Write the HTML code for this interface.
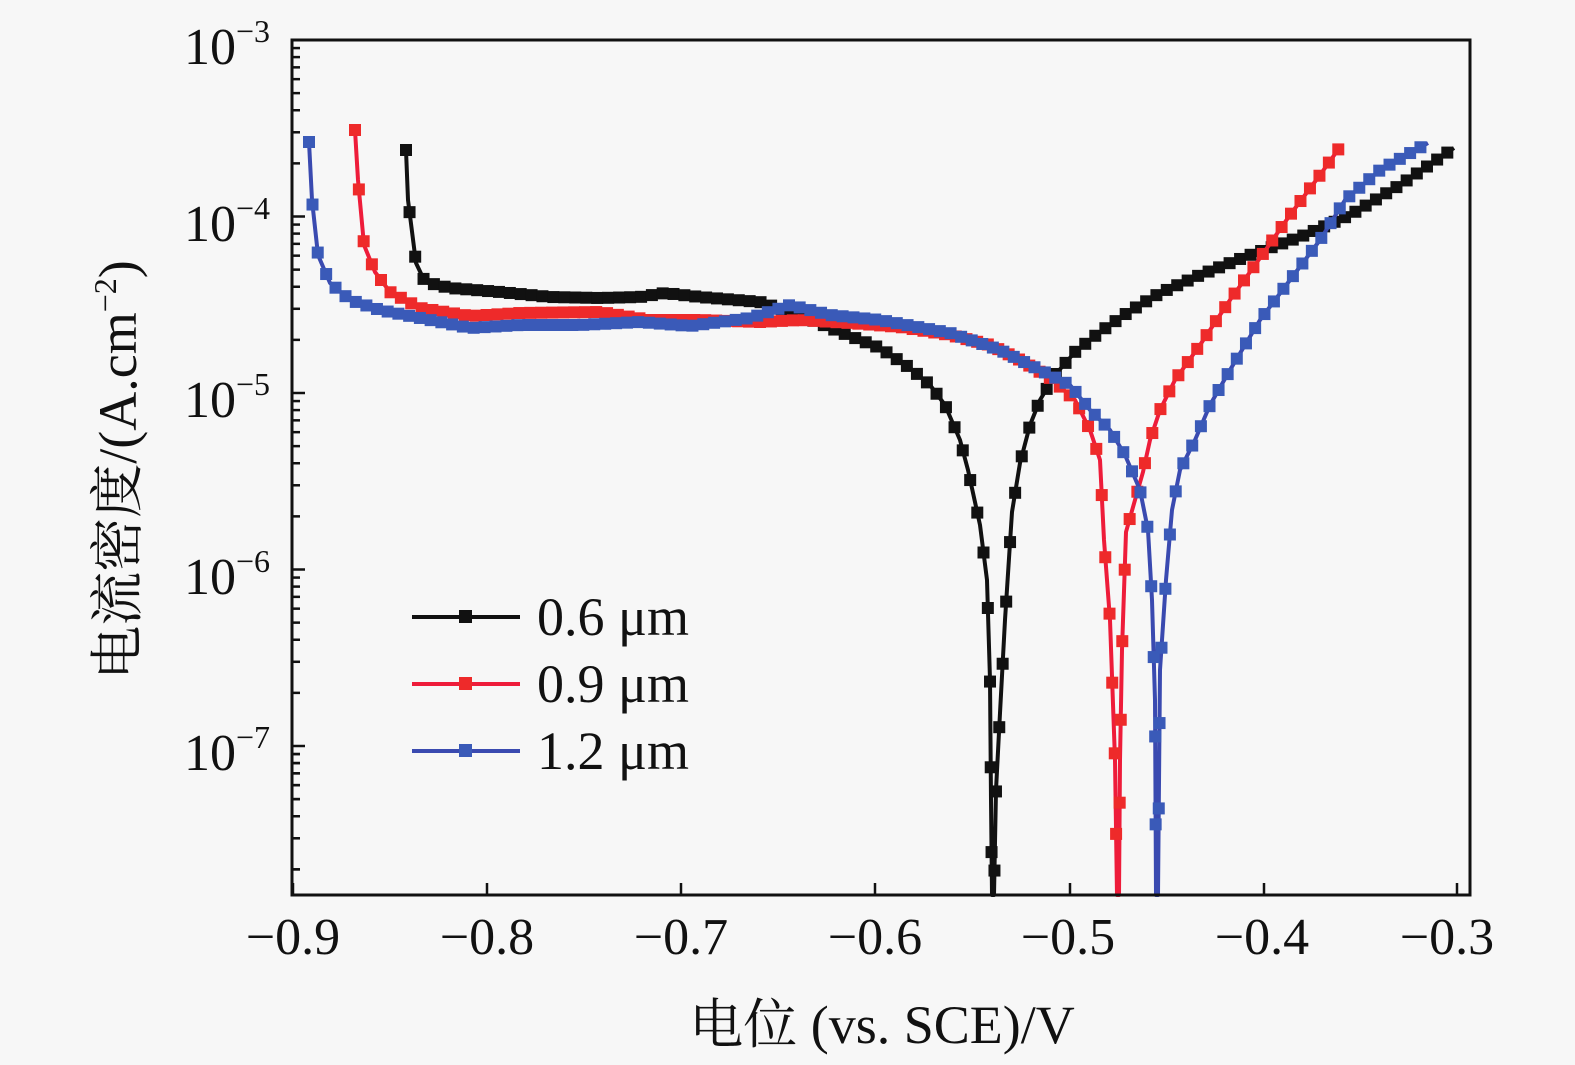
<!DOCTYPE html>
<html><head><meta charset="utf-8"><style>
html,body{margin:0;padding:0;background:#f7f7f7;}
svg{display:block}
text{font-family:"Liberation Serif","Noto Serif CJK SC",serif;fill:#111}
</style></head><body>
<svg id="s" width="1575" height="1065" xmlns="http://www.w3.org/2000/svg">
<rect width="1575" height="1065" fill="#f7f7f7"/>
<g id="ax" stroke="#111" stroke-width="2.5" fill="none"></g>
<g id="curves"></g>
<rect x="292" y="40" width="1178" height="855" fill="none" stroke="#111" stroke-width="3"/>
<g font-size="52" text-anchor="end">
<text x="270" y="64">10<tspan font-size="32" dy="-22">−3</tspan></text>
<text x="270" y="241">10<tspan font-size="32" dy="-22">−4</tspan></text>
<text x="270" y="417">10<tspan font-size="32" dy="-22">−5</tspan></text>
<text x="270" y="594">10<tspan font-size="32" dy="-22">−6</tspan></text>
<text x="270" y="770">10<tspan font-size="32" dy="-22">−7</tspan></text>
</g>
<g font-size="52" text-anchor="middle">
<text x="293" y="954">−0.9</text>
<text x="487" y="954">−0.8</text>
<text x="681" y="954">−0.7</text>
<text x="875" y="954">−0.6</text>
<text x="1068" y="954">−0.5</text>
<text x="1262" y="954">−0.4</text>
<text x="1447" y="954">−0.3</text>
<text x="882" y="1043" font-size="54">电位 (vs. SCE)/V</text>
<text transform="translate(136,470) rotate(-90)" font-size="54">电流密度/(A.cm<tspan font-size="32" dy="-20">−2</tspan><tspan dy="20">)</tspan></text>
</g>
<g font-size="54">
<text x="537" y="635">0.6 μm</text>
<text x="537" y="702">0.9 μm</text>
<text x="537" y="769">1.2 μm</text>
</g>
<g stroke-width="4">
<line x1="412" y1="617" x2="520" y2="617" stroke="#111"/>
<line x1="412" y1="684" x2="520" y2="684" stroke="#ee1c3a"/>
<line x1="412" y1="751" x2="520" y2="751" stroke="#3a4ab0"/>
</g>
<rect x="459" y="610" width="13" height="13" fill="#111"/>
<rect x="459" y="677" width="13" height="13" fill="#ee2a2a"/>
<rect x="459" y="744" width="13" height="13" fill="#3a5ab8"/>
</svg>
<script>
var NS="http://www.w3.org/2000/svg";
var ax=document.getElementById('ax');
function ln(x1,y1,x2,y2){var l=document.createElementNS(NS,'line');l.setAttribute('x1',x1);l.setAttribute('y1',y1);l.setAttribute('x2',x2);l.setAttribute('y2',y2);ax.appendChild(l);}
for(var d=0;d<5;d++){var y0=40+d*176.5;ln(292,y0,305,y0);
 for(var k=2;k<10;k++){var y=y0+176.5-Math.log10(k)*176.5; if(y<895) ln(292,y,300,y);}}
for(var k=2;k<10;k++){var y=40+5*176.5-Math.log10(k)*176.5; if(y<895&&y>40+4*176.5) ln(292,y,300,y);}
[293,487,681,875,1070,1264,1457].forEach(function(x){ln(x,895,x,883);});
var cg=document.getElementById('curves');
function curve(pts,col,mcol){
 var p=document.createElementNS(NS,'polyline');
 p.setAttribute('points',pts.map(function(a){return a.join(',')}).join(' '));
 p.setAttribute('fill','none');p.setAttribute('stroke',col);p.setAttribute('stroke-width','4');p.setAttribute('stroke-linejoin','round');
 cg.appendChild(p);
 var acc=0,step=11;
 function mk(x,y){if(y>885)return;var r=document.createElementNS(NS,'rect');r.setAttribute('x',x-6);r.setAttribute('y',y-6);r.setAttribute('width',12);r.setAttribute('height',12);r.setAttribute('fill',mcol);cg.appendChild(r);}
 mk(pts[0][0],pts[0][1]);
 for(var i=1;i<pts.length;i++){var dx=pts[i][0]-pts[i-1][0],dy=pts[i][1]-pts[i-1][1];var L=Math.abs(dx)+Math.abs(dy)*0.12;var t=step-acc;
  while(t<=L){mk(pts[i-1][0]+dx*t/L,pts[i-1][1]+dy*t/L);t+=step;}acc=L-(t-step);}
}
curve([[406,150],[408,200],[416,263],[425,282],[450,288],[500,292],[550,297],[600,298],[640,297],[665,293],[700,297],[760,302],[800,315],[840,332],[880,348],[910,368],[930,385],[945,405],[960,440],[968,470],[980,525],[987,580],[990,680],[991,800],[992,895],[994,895],[996,790],[1000,713],[1005,620],[1012,512],[1020,463],[1030,425],[1040,400],[1055,375],[1075,352],[1100,332],[1130,311],[1160,293],[1200,275],[1250,255],[1300,237],[1350,215],[1400,185],[1454,148]],'#111','#111');
curve([[355,130],[358,180],[364,245],[375,272],[390,292],[420,308],[470,316],[520,313],[600,312],[650,320],[700,320],[760,322],[800,320],[850,323],[900,327],[950,335],[990,345],[1020,360],[1050,378],[1075,400],[1090,430],[1100,460],[1104,540],[1110,620],[1115,760],[1117,895],[1119,895],[1120,760],[1122,650],[1126,532],[1135,500],[1143,472],[1150,440],[1160,410],[1175,380],[1200,345],[1230,300],[1260,258],[1290,215],[1320,175],[1340,147]],'#ee1c3a','#ee2a2a');
curve([[309,142],[312,200],[318,255],[330,283],[350,300],[380,310],[420,318],[470,328],[520,325],[580,325],[640,322],[690,326],[750,318],[790,305],[830,315],[880,320],[950,333],[1000,350],[1040,370],[1070,385],[1090,410],[1110,430],[1125,455],[1140,490],[1148,530],[1152,600],[1155,700],[1156,895],[1158,895],[1160,670],[1166,580],[1172,510],[1180,470],[1195,440],[1210,405],[1230,370],[1260,320],[1290,280],[1320,240],[1345,200],[1380,170],[1428,143]],'#3a4ab0','#3a5ab8');
</script>
</body></html>
